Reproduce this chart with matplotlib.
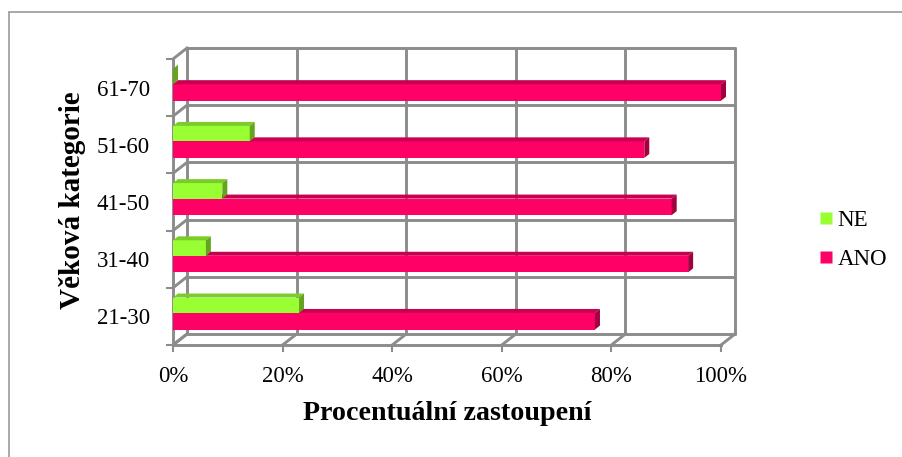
import matplotlib
matplotlib.use("Agg")
import matplotlib.pyplot as plt
from matplotlib.patches import Polygon, Rectangle
from matplotlib.lines import Line2D

categories = ["21-30", "31-40", "41-50", "51-60", "61-70"]
ne_values = [23, 6, 9, 14, 0]
ano_values = [77, 94, 91, 86, 100]
x_ticks = [0, 20, 40, 60, 80, 100]
x_tick_labels = ["0%", "20%", "40%", "60%", "80%", "100%"]
series_names = ["NE", "ANO"]

FONT = "Liberation Serif"
GRID = "#8c8c8c"
ANO_FRONT, ANO_TOP, ANO_SIDE = "#ff0066", "#c8004f", "#a3003f"
NE_FRONT, NE_TOP, NE_SIDE = "#99ff33", "#7acc29", "#66a31f"

W, H = 902, 457
fig = plt.figure(figsize=(W / 100, H / 100), dpi=100)

# outer frame
fig.patches.append(Rectangle((9 / W, -0.1), 1.2, (H - 12) / H + 0.1,
                             transform=fig.transFigure, fill=False,
                             edgecolor="#999999", linewidth=1.2))

# front plane of the 3D plot
x0, x1, ybot, ytop = 173, 721, 345, 59
ax = fig.add_axes([x0 / W, (H - ybot) / H, (x1 - x0) / W, (ybot - ytop) / H])
ax.set_xlim(0, 100)
ax.set_ylim(0, len(categories))
for s in ax.spines.values():
    s.set_visible(False)
ax.patch.set_visible(False)

pxx = 100 / (x1 - x0)          # data units per pixel (x)
pxy = len(categories) / (ybot - ytop)  # data units per pixel (y)
wdx, wdy = 14 * pxx, 11 * pxy  # wall depth offset
lw = 2.1

# back wall grid
for xv in x_ticks:
    ax.plot([xv + wdx, xv + wdx], [wdy, len(categories) + wdy], color=GRID, lw=lw,
            clip_on=False, zorder=1, solid_capstyle="round")
    ax.plot([xv, xv + wdx], [0, wdy], color=GRID, lw=lw, clip_on=False, zorder=1)
for yv in range(len(categories) + 1):
    ax.plot([wdx, 100 + wdx], [yv + wdy, yv + wdy], color=GRID, lw=lw,
            clip_on=False, zorder=1, solid_capstyle="round")
    ax.plot([0, wdx], [yv, yv + wdy], color=GRID, lw=lw, clip_on=False, zorder=1)
# front axes lines
ax.plot([0, 100], [0, 0], color=GRID, lw=lw, clip_on=False, zorder=1)
ax.plot([0, 0], [0, len(categories)], color=GRID, lw=lw, clip_on=False, zorder=1)

# 3D bars
bdx, bdy = 5 * pxx, 4 * pxy
off, h_ano, h_ne = 0.06, 0.29, 0.27


def bar3d(val, bottom, height, front, top, side, z):
    ax.add_patch(Rectangle((0, bottom), val, height, facecolor=front,
                           edgecolor="none", zorder=z, clip_on=False))
    t = bottom + height
    ax.add_patch(Polygon([(0, t), (val, t), (val + bdx, t + bdy), (bdx, t + bdy)],
                         closed=True, facecolor=top, edgecolor="none", zorder=z,
                         clip_on=False))
    ax.add_patch(Polygon([(val, bottom), (val, t), (val + bdx, t + bdy),
                          (val + bdx, bottom + bdy)], closed=True, facecolor=side,
                         edgecolor="none", zorder=z, clip_on=False))


for i, (ne, ano) in enumerate(zip(ne_values, ano_values)):
    c = i + 0.5
    bar3d(ano, c + off - h_ano, h_ano, ANO_FRONT, ANO_TOP, ANO_SIDE, 3)
    bar3d(ne, c + off, h_ne, NE_FRONT, NE_TOP, NE_SIDE, 4)

# ticks
ax.set_xticks(x_ticks)
ax.set_xticklabels(x_tick_labels, fontfamily=FONT, fontsize=16.5)
ax.tick_params(axis="x", length=5, width=1.5, color=GRID, pad=10)
ax.set_yticks(range(len(categories) + 1))
ax.set_yticklabels([])
ax.set_yticks([i + 0.5 for i in range(len(categories))], minor=True)
ax.set_yticklabels(categories, minor=True, fontfamily=FONT, fontsize=16.5)
ax.tick_params(axis="y", which="major", length=5, width=1.5, color=GRID)
ax.tick_params(axis="y", which="minor", length=0, pad=16.5)

fig.text(447 / W, 1 - 413 / H, "Procentuální zastoupení", fontfamily=FONT,
         fontweight="bold", fontsize=20.2, ha="center", va="center")
fig.text(72 / W, 1 - 200 / H, "Věková kategorie", fontfamily=FONT,
         fontweight="bold", fontsize=21, ha="center", va="center", rotation=90)

handles = [Line2D([], [], marker="s", linestyle="none", markersize=9,
                  markerfacecolor=NE_FRONT, markeredgecolor="none"),
           Line2D([], [], marker="s", linestyle="none", markersize=9,
                  markerfacecolor=ANO_FRONT, markeredgecolor="none")]
fig.legend(handles, series_names, loc="center left",
           bbox_to_anchor=(808 / W, 1 - 240 / H), frameon=False,
           prop={"family": FONT, "size": 16.5}, handlelength=0.6,
           handletextpad=0.2, labelspacing=0.8, borderpad=0)

fig.savefig("out.png", dpi=100)
